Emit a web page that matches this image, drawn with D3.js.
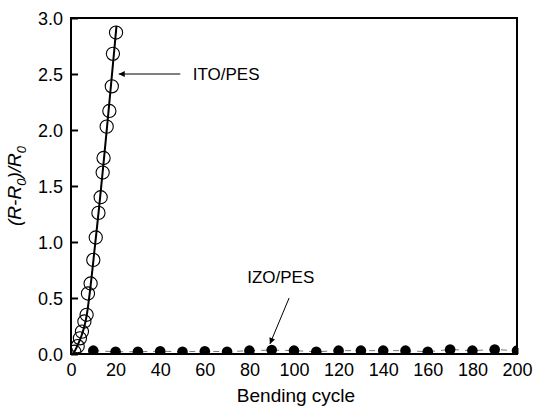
<!DOCTYPE html>
<html>
<head>
<meta charset="utf-8">
<script src="https://cdn.jsdelivr.net/npm/d3@7"></script>
<style>
  body { margin: 0; background: #fff; }
  text { font-family: Arial, "Liberation Sans", sans-serif; }
</style>
</head>
<body>
<div id="main"></div>
<script>
// data
var itoCycles = [1.5, 3.0, 4.0, 4.9, 6.0, 7.0, 7.6, 8.8, 10.0, 11.1, 12.3, 13.3, 14.2, 14.6, 16.0, 17.2, 18.3, 18.8, 20.2];
var itoValues = [0.02, 0.07, 0.14, 0.20, 0.29, 0.35, 0.54, 0.63, 0.84, 1.04, 1.26, 1.40, 1.62, 1.75, 2.03, 2.17, 2.39, 2.68, 2.87];
var fitCycles = [0.9, 3.0, 7.0, 11.1, 20.4];
var fitValues = [0.0, 0.08, 0.34, 1.03, 2.93];
var izoCycles = [10, 20, 30, 40, 50, 60, 70, 80, 90, 100, 110, 120, 130, 140, 150, 160, 170, 180, 190, 200];
var izoValues = [0.03, 0.02, 0.02, 0.025, 0.02, 0.025, 0.02, 0.03, 0.035, 0.03, 0.02, 0.03, 0.03, 0.03, 0.03, 0.02, 0.04, 0.03, 0.04, 0.03];
var xTicks = [0, 20, 40, 60, 80, 100, 120, 140, 160, 180, 200];
var yTicks = [0.0, 0.5, 1.0, 1.5, 2.0, 2.5, 3.0];

var width = 533, height = 407;
var margin = {left: 71, top: 18, right: 16, bottom: 53};
var w = width - margin.left - margin.right;
var h = height - margin.top - margin.bottom;

var svg = d3.select("#main").append("svg")
    .attr("width", width)
    .attr("height", height);

var x = d3.scaleLinear().domain([0, 200]).range([0, w]);
var y = d3.scaleLinear().domain([0, 3]).range([h, 0]);

var g = svg.append("g").attr("transform", "translate(" + margin.left + "," + margin.top + ")");

svg.append("defs").append("clipPath").attr("id", "clip")
  .append("rect").attr("width", w).attr("height", h);

svg.select("defs").append("marker")
    .attr("id", "arrow")
    .attr("viewBox", "0 0 10 10")
    .attr("refX", 10).attr("refY", 5)
    .attr("markerWidth", 10).attr("markerHeight", 6)
    .attr("markerUnits", "userSpaceOnUse")
    .attr("orient", "auto")
  .append("path").attr("d", "M0,0 L10,5 L0,10 Z").attr("fill", "#000");

var plot = g.append("g").attr("clip-path", "url(#clip)");

// IZO dashed line + dots
var izo = izoCycles.map(function(c, i) { return [c, izoValues[i]]; });
plot.append("path")
    .datum(izo)
    .attr("fill", "none")
    .attr("stroke", "#777")
    .attr("stroke-width", 1)
    .attr("stroke-dasharray", "6,6")
    .attr("d", d3.line().x(function(d) { return x(d[0]); }).y(function(d) { return y(d[1]); }));

plot.selectAll(".izo").data(izo).enter().append("circle")
    .attr("cx", function(d) { return x(d[0]); })
    .attr("cy", function(d) { return y(d[1]); })
    .attr("r", 5.3)
    .attr("fill", "#000");

// ITO open circles + trend line
var ito = itoCycles.map(function(c, i) { return [c, itoValues[i]]; });
plot.selectAll(".ito").data(ito).enter().append("circle")
    .attr("cx", function(d) { return x(d[0]); })
    .attr("cy", function(d) { return y(d[1]); })
    .attr("r", 6.6)
    .attr("fill", "none")
    .attr("stroke", "#000")
    .attr("stroke-width", 1.1);

var fit = fitCycles.map(function(c, i) { return [c, fitValues[i]]; });
plot.append("path")
    .datum(fit)
    .attr("fill", "none")
    .attr("stroke", "#000")
    .attr("stroke-width", 2)
    .attr("d", d3.line().curve(d3.curveMonotoneX).x(function(d) { return x(d[0]); }).y(function(d) { return y(d[1]); }));

// axes
var yAxis = g.append("g")
    .call(d3.axisLeft(y).tickValues(yTicks).tickFormat(d3.format(".1f")).tickSizeInner(-7).tickSizeOuter(0).tickPadding(8));
var xAxis = g.append("g")
    .attr("transform", "translate(0," + h + ")")
    .call(d3.axisBottom(x).tickValues(xTicks).tickSizeInner(-6).tickSizeOuter(0).tickPadding(9));

[yAxis, xAxis].forEach(function(a) {
  a.select(".domain").remove();
  a.selectAll(".tick line").attr("stroke", "#000").attr("stroke-width", 2);
  a.selectAll(".tick text").attr("fill", "#000").attr("font-size", "18px")
    .attr("font-family", "Arial, 'Liberation Sans', sans-serif");
});
yAxis.selectAll(".tick text").attr("dy", "0.36em");

g.append("rect")
    .attr("width", w).attr("height", h)
    .attr("fill", "none")
    .attr("stroke", "#000")
    .attr("stroke-width", 2);

// axis titles
svg.append("text")
    .attr("x", margin.left + w / 2 + 2)
    .attr("y", 402)
    .attr("text-anchor", "middle")
    .attr("font-size", "19px")
    .text("Bending cycle");

var yt = svg.append("text")
    .attr("transform", "translate(21," + (margin.top + h / 2) + ") rotate(-90)")
    .attr("text-anchor", "middle")
    .attr("font-size", "19px")
    .attr("font-style", "italic");
yt.append("tspan").text("(R-R");
yt.append("tspan").attr("font-size", "13px").attr("dy", 5).text("0");
yt.append("tspan").attr("dy", -5).text(")/R");
yt.append("tspan").attr("font-size", "13px").attr("dy", 5).text("0");

// annotations
g.append("line")
    .attr("x1", x(49)).attr("y1", y(2.5))
    .attr("x2", x(21.4)).attr("y2", y(2.5))
    .attr("stroke", "#000").attr("stroke-width", 1)
    .attr("marker-end", "url(#arrow)");
g.append("text")
    .attr("x", x(54.6)).attr("y", y(2.5))
    .attr("dy", "0.35em")
    .attr("font-size", "17px")
    .text("ITO/PES");

g.append("line")
    .attr("x1", x(97.8)).attr("y1", y(0.5))
    .attr("x2", x(89.2)).attr("y2", y(0.09))
    .attr("stroke", "#000").attr("stroke-width", 1)
    .attr("marker-end", "url(#arrow)");
g.append("text")
    .attr("x", x(79)).attr("y", y(0.69))
    .attr("dy", "0.35em")
    .attr("font-size", "17px")
    .text("IZO/PES");
</script>
</body>
</html>
